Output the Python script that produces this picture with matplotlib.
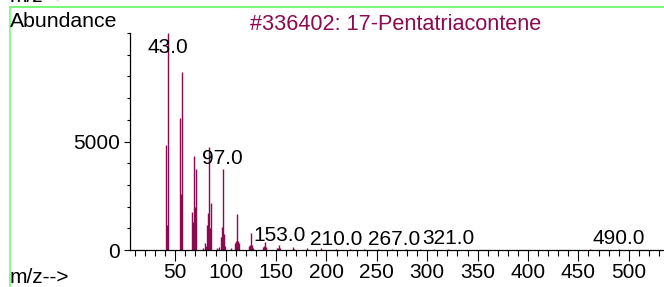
import matplotlib
matplotlib.use('Agg')
import matplotlib.pyplot as plt
from matplotlib.ticker import MultipleLocator, FixedLocator

plt.rcParams['font.family'] = ['Liberation Sans', 'DejaVu Sans']

# spectrum data
mz = [41, 42, 43, 55, 56, 57, 67, 68, 69, 70, 71,
      77, 79, 80, 81, 82, 83, 84, 85,
      91, 93, 95, 96, 97, 98, 99,
      105, 109, 110, 111, 112, 113,
      123, 124, 125, 126, 127,
      137, 138, 139, 140,
      151, 152, 153, 154, 167, 168, 181, 195, 209, 223, 237, 251,
      265, 279, 293, 307, 321, 462, 490]
abund = [4830, 1150, 9990, 6060, 2600, 8180, 1760, 1300, 4340, 2000, 3740,
         100, 320, 180, 1150, 1720, 4750, 1000, 2150,
         100, 150, 600, 1050, 3720, 740, 200,
         100, 310, 400, 1650, 430, 300,
         200, 250, 800, 250, 100,
         150, 200, 350, 150,
         80, 100, 230, 80, 150, 60, 90, 80, 60, 50, 50, 50,
         40, 40, 30, 30, 30, 30, 50]

label_mz = [43.0, 97.0, 153.0, 210.0, 267.0, 321.0, 490.0]
label_y = [9080, 3960, 415, 230, 230, 280, 280]

title = '#336402: 17-Pentatriacontene'
maroon = '#8b0a50'
fs = 15

W, H = 664, 287
fig = plt.figure(figsize=(W / 100, H / 100), dpi=100)
ax = fig.add_axes([130 / W, 1 - 250 / H, 1 - 130 / W, 217 / H])

ax.vlines(mz, 0, abund, color=maroon, lw=1.0)
for m, y in zip(label_mz, label_y):
    ax.text(m, y, '%.1f' % m, ha='center', va='baseline', fontsize=fs)

ax.set_xlim(5, 535)
ax.set_ylim(0, 10000)
for s in ['top', 'right']:
    ax.spines[s].set_visible(False)
ax.spines['left'].set_linewidth(0.9)
ax.spines['bottom'].set_linewidth(0.9)

ax.xaxis.set_major_locator(MultipleLocator(50))
ax.xaxis.set_minor_locator(MultipleLocator(10))
ax.yaxis.set_major_locator(FixedLocator([0, 5000]))
ax.yaxis.set_minor_locator(MultipleLocator(1000))
ax.tick_params(axis='x', which='major', length=8, width=0.8, labelsize=fs, pad=1.5)
ax.tick_params(axis='x', which='minor', length=4, width=0.8)
ax.tick_params(axis='y', which='major', length=4, width=0.8, labelsize=fs, pad=3)
ax.tick_params(axis='y', which='minor', length=2, width=0.8)
ax.set_xticks([50, 100, 150, 200, 250, 300, 350, 400, 450, 500])

# texts around the plot
fig.text(10 / W, 1 - 27 / H, 'Abundance', fontsize=15.3, va='baseline')
fig.text(396 / W, 1 - 29.5 / H, title, fontsize=15.6, va='baseline', ha='center', color=maroon)
fig.text(10 / W, 1 - 283 / H, 'm/z-->', fontsize=fs, va='baseline')
# the tail of the previous panel's label, cut at the top edge
fig.text(10 / W, 1 - 2 / H, 'm/z-->', fontsize=fs, va='baseline')

# green frame
green = '#7cf57c'
fig.add_artist(plt.Line2D([9.5 / W, 1], [1 - 7 / H, 1 - 7 / H], color=green, lw=1.5, transform=fig.transFigure))
fig.add_artist(plt.Line2D([9.5 / W, 9.5 / W], [0, 1 - 7 / H], color=green, lw=1.2, transform=fig.transFigure))

fig.savefig('out.png', dpi=100)
